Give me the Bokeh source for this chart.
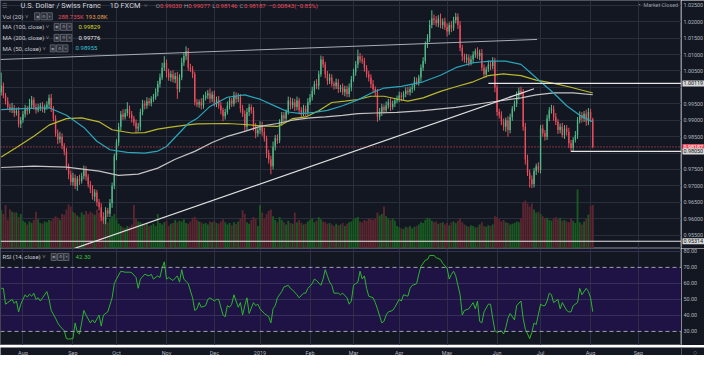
from bokeh.plotting import figure
from bokeh.models import Range1d, FixedTicker, Grid, Label, Span, BoxAnnotation, ColumnDataSource
from bokeh.layouts import column, row
from bokeh.embed import file_html
from bokeh.resources import INLINE

# ---------------- data (prices in 1e-4 units, bar index 0 = 1 Aug 2018) ----------------
first_idx = -10
first_open = 9985
closes = [
    10005, 9975, 9958, 9940, 9932, 9938, 9922, 9928, 9888, 9900,
    9918, 9935, 9928, 9945, 9962, 9940, 9930, 9938, 9945, 9932,
    9940, 9948, 9968, 9935, 9905, 9860, 9842, 9850, 9822, 9805,
    9760, 9735, 9712, 9725, 9700, 9722, 9715, 9730, 9750, 9728,
    9705, 9690, 9668, 9680, 9650, 9635, 9605, 9595, 9625, 9615,
    9648, 9700, 9790, 9832, 9880, 9918, 9910, 9922, 9935, 9918,
    9905, 9892, 9875, 9880, 9925, 9950, 9945, 9958, 9952, 9965,
    9970, 9985, 10010, 10030, 10060, 10075, 10045, 10030, 10040, 10025,
    10035, 9995, 10030, 10075, 10095, 10110, 10060, 10055, 10040, 9955,
    9948, 9955, 9945, 9968, 9975, 9982, 9965, 9978, 9950, 9962,
    9945, 9930, 9912, 9925, 9945, 9960, 9950, 9975, 9965, 9970,
    9935, 9920, 9880, 9925, 9940, 9930, 9880, 9860, 9870, 9885,
    9865, 9845, 9800, 9780, 9760, 9820, 9845, 9838, 9895, 9915,
    9905, 9925, 9960, 9945, 9955, 9940, 9960, 9930, 9920, 9935,
    9925, 9955, 9970, 9990, 10010, 10005, 10040, 10085, 10070, 10040,
    10020, 10030, 10010, 10005, 10015, 9995, 10000, 9985, 9995, 9980,
    10000, 10025, 10045, 10070, 10095, 10085, 10080, 10060, 10040, 10030,
    10010, 9995, 9985, 9910, 9925, 9940, 9930, 9945, 9955, 9940,
    9950, 9960, 9965, 9975, 9970, 9980, 9990, 9985, 9995, 10000,
    10020, 10015, 10030, 10060, 10080, 10130, 10150, 10190, 10210, 10205,
    10195, 10210, 10190, 10200, 10185, 10170, 10190, 10180, 10205, 10215,
    10190, 10120, 10095, 10085, 10090, 10075, 10085, 10100, 10110, 10095,
    10105, 10060, 10040, 10055, 10070, 10065, 10080, 10000, 9925, 9915,
    9895, 9880, 9900, 9870, 9910, 9935, 9950, 9975, 9990, 9985,
    9880, 9780, 9740, 9720, 9705, 9745, 9760, 9750, 9875, 9860,
    9850, 9905, 9930, 9935, 9910, 9895, 9870, 9880, 9855, 9875,
    9865, 9830, 9815, 9840, 9855, 9900, 9915, 9905, 9920, 9895,
    9925, 9903, 9818.7,
]
hi_ext = [
    40, 10, 8, 12, 10, 15, 8, 10, 12, 10,
    10, 12, 8, 20, 12, 8, 10, 12, 8, 10,
    8, 10, 10, 12, 8, 10, 12, 15, 10, 8,
    10, 8, 12, 15, 10, 8, 12, 10, 12, 10,
    8, 10, 12, 10, 8, 10, 12, 15, 10, 8,
    12, 10, 8, 10, 12, 10, 15, 12, 20, 10,
    10, 8, 10, 12, 10, 12, 10, 12, 10, 8,
    10, 12, 10, 12, 15, 20, 10, 12, 10, 12,
    10, 12, 10, 15, 12, 15, 10, 12, 10, 8,
    10, 8, 12, 10, 12, 10, 15, 10, 12, 10,
    12, 10, 8, 10, 12, 10, 8, 12, 10, 12,
    10, 12, 10, 12, 10, 8, 10, 12, 10, 12,
    10, 12, 8, 10, 12, 15, 10, 12, 8, 10,
    10, 8, 12, 10, 12, 10, 12, 8, 10, 12,
    10, 12, 10, 12, 10, 15, 10, 12, 10, 8,
    10, 12, 10, 8, 12, 10, 8, 12, 10, 10,
    12, 10, 12, 10, 20, 10, 12, 10, 8, 10,
    10, 12, 8, 10, 12, 10, 8, 12, 10, 12,
    10, 8, 10, 12, 10, 8, 10, 12, 8, 10,
    12, 10, 8, 10, 12, 10, 12, 15, 25, 12,
    12, 10, 15, 10, 12, 10, 8, 12, 10, 12,
    10, 12, 10, 8, 12, 10, 12, 10, 8, 12,
    10, 12, 10, 8, 12, 10, 12, 10, 8, 10,
    12, 10, 8, 12, 10, 8, 10, 12, 10, 12,
    10, 12, 15, 10, 12, 10, 8, 12, 10, 12,
    10, 12, 10, 12, 10, 12, 8, 10, 12, 10,
    10, 12, 10, 8, 12, 10, 12, 10, 8, 12,
    12, 10, 4.7,
]
lo_ext = [
    10, 8, 10, 6, 8, 10, 12, 8, 10, 12,
    8, 10, 12, 8, 10, 8, 10, 6, 10, 8,
    10, 8, 12, 10, 8, 10, 15, 12, 10, 12,
    12, 15, 10, 12, 10, 15, 12, 8, 10, 12,
    10, 12, 10, 15, 12, 10, 12, 10, 12, 10,
    10, 15, 10, 12, 10, 12, 10, 8, 10, 12,
    12, 10, 15, 10, 12, 10, 12, 10, 8, 10,
    10, 8, 12, 10, 8, 10, 15, 10, 12, 10,
    12, 30, 10, 8, 10, 12, 10, 8, 12, 10,
    8, 10, 12, 10, 8, 10, 12, 10, 8, 10,
    10, 12, 15, 10, 8, 12, 10, 8, 12, 10,
    12, 10, 15, 10, 12, 10, 12, 15, 10, 12,
    12, 10, 15, 12, 25, 10, 12, 10, 8, 12,
    12, 10, 8, 12, 10, 12, 10, 12, 10, 8,
    12, 10, 8, 10, 12, 10, 12, 8, 10, 12,
    12, 10, 8, 12, 10, 12, 10, 8, 12, 10,
    10, 12, 8, 10, 12, 10, 8, 12, 10, 12,
    12, 10, 12, 15, 10, 12, 10, 8, 10, 12,
    8, 10, 8, 10, 12, 8, 10, 8, 10, 12,
    10, 8, 10, 12, 10, 8, 10, 12, 10, 15,
    10, 12, 10, 12, 10, 15, 10, 12, 8, 10,
    12, 10, 15, 10, 12, 10, 8, 12, 10, 8,
    12, 10, 12, 10, 8, 12, 10, 15, 12, 10,
    10, 12, 15, 20, 10, 12, 8, 10, 12, 10,
    12, 15, 10, 25, 12, 10, 12, 10, 12, 10,
    12, 10, 8, 10, 12, 10, 12, 10, 8, 12,
    12, 15, 12, 10, 8, 12, 10, 12, 10, 12,
    10, 8, 4.1,
]
volume_k = [
    255, 230, 290, 190, 260, 245, 240, 240, 210, 230,
    185, 175, 160, 180, 170, 190, 245, 195, 170, 165,
    180, 175, 190, 185, 200, 215, 205, 190, 230, 225,
    260, 295, 280, 245, 235, 220, 210, 240, 225, 250,
    230, 245, 235, 225, 260, 240, 250, 215, 190, 175,
    200, 215, 230, 195, 165, 150, 140, 135, 150, 145,
    160, 290, 200, 180, 175, 165, 160, 170, 150, 155,
    165, 150, 230, 170, 160, 175, 185, 150, 165, 170,
    190, 175, 185, 180, 195, 170, 165, 180, 205, 210,
    190, 180, 175, 165, 170, 160, 180, 175, 185, 170,
    165, 180, 195, 175, 160, 170, 155, 175, 165, 180,
    200, 255, 230, 175, 165, 190, 210, 200, 150, 290,
    240, 200, 230, 250, 260, 215, 190, 175, 210, 190,
    175, 160, 185, 170, 165, 240, 175, 190, 170, 160,
    165, 180, 190, 200, 175, 185, 210, 195, 180, 175,
    165, 170, 160, 150, 165, 155, 160, 170, 150, 165,
    175, 180, 195, 205, 210, 180, 175, 190, 185, 200,
    195, 190, 200, 240, 220, 230, 280, 215, 200, 190,
    200, 185, 150, 140, 135, 130, 145, 140, 150, 135,
    145, 150, 160, 175, 170, 190, 205, 200, 185, 175,
    180, 165, 170, 175, 160, 170, 155, 175, 180, 170,
    185, 200, 175, 160, 150, 145, 155, 150, 140, 145,
    160, 175, 150, 145, 155, 150, 160, 215, 210, 195,
    180, 190, 175, 170, 160, 165, 170, 180, 175, 200,
    310, 320, 300, 280, 300, 260, 240, 245, 230, 215,
    200, 205, 190, 185, 200, 210, 195, 205, 185, 190,
    180, 175, 200, 185, 170, 393, 175, 160, 180, 200,
    225, 283, 288.735,
]

ma50_idx = [-10, 0, 12, 20, 28, 34, 40, 48, 56, 62, 66, 71, 76, 80, 86, 94, 102, 109, 117, 122,
            128, 134, 140, 147, 154, 160, 166, 174, 184, 192, 199, 207, 215, 222, 229, 233, 238, 244, 250, 256, 262]
ma50_val = [0.9932, 0.9935, 0.9938, 0.9915, 0.9878, 0.9836, 0.9810, 0.9802, 0.9800, 0.9806, 0.9820, 0.9855,
            0.9890, 0.9905, 0.9942, 0.9970, 0.9977, 0.9964, 0.9940, 0.9925, 0.9920, 0.9924, 0.9930, 0.9944,
            0.9962, 0.9982, 0.9998, 1.0003, 1.0017, 1.0037, 1.0060, 1.0075, 1.0080, 1.0080, 1.0070, 1.0047,
            1.0017, 0.9983, 0.9944, 0.9915, 0.98955]
ma100_idx = [-10, -3, 5, 12, 20, 27, 35, 41, 50, 56, 62, 68, 74, 80, 94, 102, 109, 117, 120, 124, 130,
             136, 142, 148, 154, 160, 166, 173, 177, 184, 192, 199, 207, 214, 221, 229, 236, 244, 251, 262]
ma100_val = [0.9788, 0.9817, 0.9851, 0.9885, 0.9905, 0.9907, 0.9895, 0.9871, 0.9861, 0.9862, 0.9873, 0.9879,
             0.9884, 0.9889, 0.9890, 0.9887, 0.9883, 0.9881, 0.9890, 0.9905, 0.9910, 0.9929, 0.9954, 0.9958,
             0.9963, 0.9973, 0.9973, 0.9963, 0.9958, 0.9968, 0.9988, 1.0002, 1.0017, 1.0036, 1.0041, 1.0036,
             1.0022, 1.0012, 1.0002, 0.99829]
ma200_idx = [-10, 5, 20, 35, 44, 53, 62, 70, 79, 87, 94, 102, 109, 117, 124, 132, 139, 147, 154, 162,
             172, 184, 199, 214, 229, 236, 244, 253, 262]
ma200_val = [0.9756, 0.9760, 0.9757, 0.9745, 0.9732, 0.9736, 0.9754, 0.9781, 0.9805, 0.9832, 0.9851, 0.9866,
             0.9881, 0.9890, 0.9900, 0.9907, 0.9910, 0.9915, 0.9920, 0.9922, 0.9924, 0.9929, 0.9939, 0.9954,
             0.9968, 0.9977, 0.9983, 0.9983, 0.99776]

rsi_idx = [-10, -9, -8, -7, -5, -4, -3, -2, -1,
           1, 2, 3, 4, 5, 6, 7, 8, 9,
           11, 12, 13, 15, 16, 17, 19, 20, 21,
           23, 24, 25, 26, 27, 28, 29,
           31, 32, 33, 35, 36, 37, 39,
           41, 42, 43, 45, 47, 49, 50,
           52, 53, 54, 56, 58, 59, 60,
           62, 63, 64, 65, 66, 67, 69,
           71, 72, 73, 74, 76, 78, 79, 80, 81, 82,
           84, 85, 86, 88, 89, 90, 92, 93, 94, 95, 96, 97,
           99, 100, 101, 102, 103, 104, 106, 107, 108, 109,
           111, 113, 114, 115, 116, 117, 119, 120, 122, 123, 124,
           126, 127, 129, 130, 131, 133, 134, 135, 137, 138, 139, 140, 141, 142, 143,
           145, 146, 147, 149, 150, 151, 152, 154, 155, 156, 157, 158, 159,
           161, 162, 163, 165, 166, 167, 168, 170, 171, 173, 174, 175, 177, 178, 179,
           181, 182, 183, 185, 186, 187, 189, 190, 192, 193, 195, 196, 197, 198, 199,
           201, 202, 203, 205, 206, 207, 208, 209, 210, 211, 212, 214, 215, 216, 217, 218,
           220, 221, 222, 223, 224, 226, 227, 229, 230, 231, 233, 234, 235, 236, 238, 239,
           240, 241, 242, 243, 244, 246, 247, 248, 250, 251, 252, 253, 255, 256, 257, 259, 260, 261, 262]
rsi_val = [56.9, 56.9, 47.0, 48.0, 50.0, 47.5, 49.0, 42.2, 47.0,
           52.9, 51.4, 53.3, 52.0, 53.9, 50.0, 51.0, 49.0, 51.0,
           54.9, 50.0, 43.1, 38.2, 35.3, 33.3, 30.4, 25.5, 25.2,
           25.5, 35.3, 29.4, 28.4, 35.3, 43.1, 40.2,
           35.3, 37.2, 35.3, 40.2, 33.3, 40.2, 42.2,
           51.0, 59.8, 62.7, 67.6, 67.0, 67.0, 66.7,
           63.7, 56.9, 62.7, 65.7, 64.7, 65.7, 62.7,
           64.7, 63.7, 69.6, 73.5, 62.7, 63.7, 61.8,
           64.7, 60.8, 68.6, 62.7, 59.8, 51.0, 43.1, 44.1, 48.0, 45.1,
           46.1, 50.0, 51.0, 49.0, 50.0, 50.0, 40.2, 39.2, 46.1, 45.1, 47.0, 52.9,
           45.1, 48.0, 40.2, 46.1, 51.0, 41.2, 48.0, 46.1, 47.0, 44.1,
           41.2, 39.2, 35.3, 44.1, 46.1, 51.0, 54.9, 57.8, 58.8, 56.9, 55.9,
           52.9, 51.0, 53.9, 53.9, 56.9, 59.8, 62.7, 61.8, 58.8, 62.7, 68.6, 64.7, 60.8, 58.8, 53.9,
           53.9, 52.9, 53.9, 51.0, 47.0, 49.0, 58.8, 60.8, 67.6, 62.7, 64.7, 56.9, 52.0,
           51.0, 48.0, 44.1, 35.3, 36.3, 40.2, 42.2, 43.1, 45.1, 50.0, 49.0, 52.9, 52.0, 56.9, 58.8,
           59.8, 65.7, 70.6, 74.5, 74.9, 77.4, 77.4, 76.1, 74.9, 72.5, 69.6, 62.7, 65.7, 67.6, 64.7,
           52.9, 40.2, 43.1, 44.1, 46.1, 48.0, 44.1, 49.0, 36.3, 35.3, 42.2, 47.0, 47.0, 38.2, 30.4, 29.4,
           30.4, 28.4, 32.3, 38.2, 41.2, 37.2, 46.1, 49.0, 38.2, 31.4, 25.5, 29.4, 35.3, 34.3, 47.0, 46.1,
           46.1, 49.0, 53.9, 52.9, 48.0, 50.0, 44.1, 48.0, 43.1, 42.2, 42.2, 46.1, 48.0, 56.9, 52.9, 56.9, 54.9, 51.0, 42.3]

# user drawings
trend_up_idx = [-10.3, 236.4]
trend_up_val = [1.0085, 1.0146]
trend_low_idx = [20, 235]
trend_low_val = [0.9501, 0.9996]
hline_levels = [1.00119, 0.98050, 0.95314]
hline_start = [214, 252, -10.3]

price_ticks = [1.025, 1.020, 1.015, 1.010, 1.005, 1.000, 0.995, 0.990, 0.985, 0.980, 0.975, 0.970, 0.965, 0.960, 0.955]
price_tick_shown = [1.025, 1.020, 1.015, 1.010, 1.005, 0.995, 0.990, 0.985, 0.975, 0.970, 0.965, 0.960, 0.955]
rsi_ticks = [80, 70, 60, 50, 40, 30]
month_idx = [0, 23, 43, 66, 88, 109, 132, 152, 173, 195, 218, 238, 261, 283]
month_labels = ["Aug", "Sep", "Oct", "Nov", "Dec", "2019", "Feb", "Mar", "Apr", "May", "Jun", "Jul", "Aug", "Sep"]

n = len(closes)
assert len(hi_ext) == n and len(lo_ext) == n and len(volume_k) == n
assert len(rsi_idx) == len(rsi_val)

# ---------------- derived series ----------------
SC = 1e4
idx = list(range(first_idx, first_idx + n))
opens = [first_open] + closes[:-1]
o = [v / SC for v in opens]
c = [v / SC for v in closes]
body_top = [max(a, b) for a, b in zip(o, c)]
body_bot = [min(a, b) for a, b in zip(o, c)]
high = [t + h / SC for t, h in zip(body_top, hi_ext)]
low = [b - l / SC for b, l in zip(body_bot, lo_ext)]

BG = "#131722"
GRID = "#2a2e3a"
SEP = "#50535e"
AXT = "#b2b5be"
UP = "#53b987"
DN = "#eb4d5c"
VUP = "#195a22"
VDN = "#5c2630"
up = [cc >= oo for oo, cc in zip(o, c)]
ccol = [UP if u else DN for u in up]
vcol = [VUP if u else VDN for u in up]

src = ColumnDataSource(dict(x=idx, top=body_top, bottom=body_bot, high=high, low=low,
                            color=ccol, vol=volume_k, vcolor=vcol))

# ---------------- geometry (reference px -> data) ----------------
X0, X1 = -10.32, 302.8          # visible bar range
FW, AW = 681, 23                # plot frame width, price-scale strip width
MH, RH, TH = 248, 97, 10        # main pane, RSI pane, time strip heights
Y0, Y1 = 0.95093, 1.02646
R0, R1 = 21.2, 81.8


def dx(rx):                      # reference x (0..698 = frame) -> bar index
    return X0 + rx * (X1 - X0) / 698.0


def dyp(ry):                     # reference y in main pane (0..259)
    return Y1 - ry * (Y1 - Y0) / 259.0


def dyr(ry):                     # reference y inside RSI pane (0..103)
    return R1 - ry * (R1 - R0) / 103.0


def lab(fig, x, y, text, color, size, bg=None, border=None, pad=0, align="left"):
    kw = dict(x=x, y=y, text=text, text_color=color, text_font_size=f"{size}px",
              text_font="Roboto", text_baseline="middle", text_align=align)
    if bg is not None:
        kw.update(background_fill_color=bg, background_fill_alpha=1.0)
    if border is not None:
        kw.update(border_line_color=border)
    if pad:
        kw.update(padding=pad)
    fig.add_layout(Label(**kw))


def base_fig(w, h, xr, yr, outline=SEP):
    f = figure(frame_width=w, frame_height=h, x_range=xr, y_range=yr, title=None,
               x_axis_location=None, y_axis_location=None, toolbar_location=None,
               output_backend="svg", min_border_left=0, min_border_right=0,
               min_border_top=0, min_border_bottom=0,
               background_fill_color=BG, border_fill_color=BG, outline_line_color=outline)
    f.xgrid.visible = False
    f.ygrid.visible = False
    return f


xr = Range1d(X0, X1)
pyr = Range1d(Y0, Y1)
ryr = Range1d(R0, R1)

# ---------------- main price pane ----------------
p = base_fig(FW, MH, xr, pyr)
p.add_layout(Grid(dimension=0, ticker=FixedTicker(ticks=month_idx), grid_line_color=GRID))
p.add_layout(Grid(dimension=1, ticker=FixedTicker(ticks=price_ticks), grid_line_color=GRID))
p.extra_y_ranges = {"vol": Range1d(0, 1650)}

p.vbar(x="x", width=0.85, top="vol", bottom=0, y_range_name="vol", fill_color="vcolor",
       line_color=None, source=src)
p.segment(x0="x", y0="low", x1="x", y1="high", line_color="color", line_width=1, source=src)
p.vbar(x="x", width=0.62, top="top", bottom="bottom", fill_color="color", line_color=None, source=src)

p.line(ma100_idx, ma100_val, line_color="#b9b92c", line_width=1.2)
p.line(ma200_idx, ma200_val, line_color="#c4c4c4", line_width=1.2)
p.line(ma50_idx, ma50_val, line_color="#2aa6bb", line_width=1.2)

p.line(trend_up_idx, trend_up_val, line_color="#a9acb3", line_width=1)
p.line(trend_low_idx, trend_low_val, line_color="#e0e0e0", line_width=1.2)
p.segment(x0=hline_start, y0=hline_levels, x1=[X1] * len(hline_levels), y1=hline_levels,
          line_color="#e6e6e6", line_width=1.2)
p.add_layout(Span(location=c[-1], dimension="width", line_color=DN, line_dash="1 2", line_width=1))

# header / legend
TY = 5.5
lab(p, dx(2), dyp(TY), "☰", "#787b86", 6)
lab(p, dx(20.5), dyp(TY), "U.S. Dollar / Swiss Franc", "#d1d4dc", 7.4)
lab(p, dx(112), dyp(TY), "1D", "#d1d4dc", 7.4)
lab(p, dx(123), dyp(TY), "FXCM", "#d1d4dc", 7.4)
lab(p, dx(147), dyp(TY - 0.5), "˅", "#9598a1", 6)
hdr = [("O", 159, "0.99030", 163.5), ("H", 188, "0.99077", 192.5),
       ("L", 217, "0.98146", 220.5), ("C", 245, "0.98187", 249.5)]
for letter, lx, num, nx in hdr:
    lab(p, dx(lx), dyp(TY), letter, "#9598a1", 6)
    lab(p, dx(nx), dyp(TY), num, DN, 6)
lab(p, dx(275), dyp(TY), "−0.00843", DN, 6)
lab(p, dx(301), dyp(TY), "(−0.85%)", DN, 6)
lab(p, dx(654), dyp(4.5), "•", "#9598a1", 6)
lab(p, dx(659), dyp(4.5), "Market Closed", "#9598a1", 5.4)

ICON_BG = "#2a2e39"
ICON_BD = "#5d606b"


def icons(fig, xs, y):
    for gx, g in zip(xs, ["◉", "⚙", "✕"]):
        lab(fig, dx(gx), y, g, "#9598a1", 4.3, bg=ICON_BG, border=ICON_BD, pad=1)


rows = [
    (16.5, "Vol (20)  ˅", [35, 41.5, 48], [("288.735K", 59, DN), ("193.08K", 87, "#e59f45")]),
    (27.5, "MA (100, close)  ˅", [55, 61.5, 68], [("0.99829", 80, "#d8d82a")]),
    (39, "MA (200, close)  ˅", [55, 61.5, 68], [("0.99776", 80, "#e8e8e8")]),
    (50, "MA (50, close)  ˅", [51, 57.5, 64], [("0.98955", 77, "#35c3d6")]),
]
for ry, name, ixs, vals in rows:
    lab(p, dx(2), dyp(ry), name, "#c8cad0", 6)
    icons(p, ixs, dyp(ry))
    for v, vx, vc in vals:
        lab(p, dx(vx), dyp(ry), v, vc, 6)

# price scale strip
pa = base_fig(AW, MH, Range1d(0, AW), pyr, outline=None)
for t in price_tick_shown:
    lab(pa, 2, t, f"{t:.5f}", AXT, 5.4)
lab(pa, 1, hline_levels[0], "1.00119", BG, 5.4, bg="#d8d8d8", pad=1)
lab(pa, 1, c[-1], f"{c[-1]:.5f}", "#ffffff", 5.4, bg=DN, pad=1)
lab(pa, 1, hline_levels[1], "0.98050", BG, 5.4, bg="#d8d8d8", pad=1)
lab(pa, 1, hline_levels[2], "0.95314", BG, 5.4, bg="#d8d8d8", pad=1)

# ---------------- RSI pane ----------------
q = base_fig(FW, RH, xr, ryr)
q.add_layout(BoxAnnotation(bottom=30, top=70, fill_color="#1f1244", fill_alpha=1.0,
                           line_color=None, level="underlay"))
q.add_layout(Grid(dimension=0, ticker=FixedTicker(ticks=month_idx), grid_line_color="#2e2f44"))
q.add_layout(Grid(dimension=1, ticker=FixedTicker(ticks=[80, 60, 50, 40]), grid_line_color="#34305a"))
for lvl in (70, 30):
    q.add_layout(Span(location=lvl, dimension="width", line_color="#a0a3ab", line_dash="4 3", line_width=1))
q.line(rsi_idx, rsi_val, line_color="#2db52d", line_width=1)

lab(q, dx(2), dyr(9), "RSI (14, close)  ˅", "#c8cad0", 6)
icons(q, [52, 58.5, 65], dyr(9))
lab(q, dx(77), dyr(9), f"{rsi_val[-1]:.2f}", "#3cc23c", 6)

qa = base_fig(AW, RH, Range1d(0, AW), ryr, outline=None)
for t in rsi_ticks:
    lab(qa, 2, t, f"{t:.2f}", AXT, 5.4)

# ---------------- time scale strip ----------------
T1 = X0 + (X1 - X0) * (FW + AW) / FW
ts = base_fig(FW + AW, TH, Range1d(X0, T1), Range1d(0, 1), outline=None)
for t, s in zip(month_idx, month_labels):
    lab(ts, t, 0.5, s, AXT, 5.5, align="center")
ts.segment(x0=[X1], y0=[0], x1=[X1], y1=[1], line_color=SEP, line_width=1)
lab(ts, dx(712), 0.5, "○", "#9598a1", 7, align="center")

layout = column(row(p, pa, spacing=0), row(q, qa, spacing=0), ts, spacing=0)
open("out.html", "w").write(file_html(layout, INLINE))
